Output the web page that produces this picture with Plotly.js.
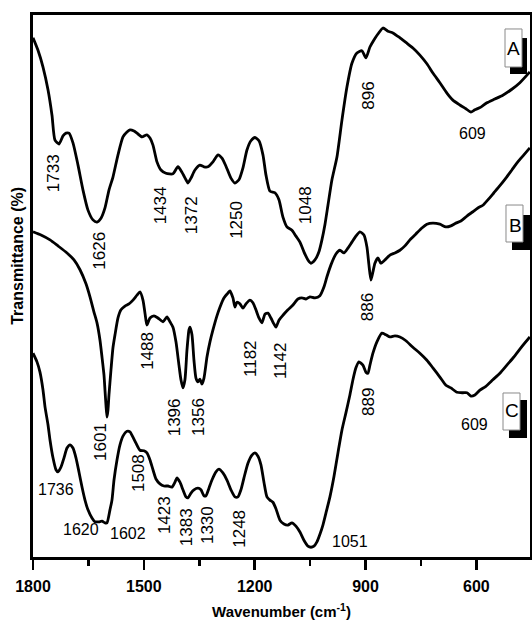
<!DOCTYPE html>
<html>
<head>
<meta charset="utf-8">
<script src="https://cdn.plot.ly/plotly-3.0.1.min.js"></script>
<style>
  html, body { margin: 0; padding: 0; background: #fff; }
  #chart { width: 532px; height: 626px; }
</style>
</head>
<body>
<div id="chart"></div>
<script>
// FTIR spectra, wavenumber (cm-1) vs. transmittance (offset, arbitrary scale)
const wnA = [1800,1786.5,1772.9,1759.4,1748.6,1740.5,1729.7,1718.8,1710.7,1702.6,1691.8,1678.2,1664.7,1651.2,1637.7,1626.8,1616.0,1605.2,1594.4,1583.6,1570.0,1556.5,1545.7,1537.6,1526.7,1518.6,1505.1,1491.6,1483.4,1475.3,1464.5,1453.7,1440.2,1421.2,1407.7,1396.9,1386.0,1380.6,1372.5,1361.7,1348.2,1337.3,1326.5,1313.0,1299.5,1288.6,1277.8,1264.3,1253.5,1242.7,1231.8,1221.0,1210.2,1199.3,1188.5,1177.7,1169.6,1158.8,1145.2,1134.4,1123.6,1112.8,1099.3,1088.4,1077.6,1066.8,1055.9,1047.8,1037.0,1026.2,1018.1,1010.0,1001.8,991.0,977.4,963.9,950.4,936.9,923.4,909.9,899.0,888.2,877.4,866.6,853.0,839.5,826.0,807.0,788.1,771.9,753.0,734.0,717.8,698.9,679.9,663.7,644.8,628.5,615.0,604.2,588.0,571.7,550.1,528.5,504.1,482.4,455.4];
const tA = [95.8,93.5,90.4,86.2,81.5,76.9,76.2,77.7,78.2,78.2,76.4,72.3,67.7,64.0,62.2,61.8,62.5,64.4,67.7,70.1,74.2,77.5,78.4,78.8,78.6,78.2,77.5,77.9,77.3,76.0,72.9,71.4,70.8,70.7,72.0,71.0,69.6,69.0,69.9,71.4,72.3,72.0,72.0,72.9,74.2,73.6,72.1,69.9,69.0,69.6,71.8,75.1,76.8,77.4,76.8,74.2,70.5,67.5,67.2,65.9,62.7,60.9,60.3,59.2,58.1,56.3,54.8,54.2,54.8,56.3,58.5,61.3,64.9,69.6,73.8,80.6,86.7,91.1,93.0,93.4,92.1,94.1,95.4,96.5,97.6,97.0,96.7,95.8,94.8,93.9,92.6,91.0,89.3,87.5,85.6,84.3,83.4,82.7,82.1,82.5,83.0,83.8,84.5,85.2,86.3,87.5,89.5];

const wnB = [1800,1778.4,1754.0,1732.4,1708.0,1689.1,1672.8,1656.6,1645.8,1635.0,1626.8,1618.7,1613.3,1607.9,1605.2,1602.5,1599.8,1597.1,1594.4,1589.0,1583.6,1578.1,1570.0,1561.9,1551.1,1540.3,1529.4,1518.6,1510.5,1502.4,1494.3,1491.6,1483.4,1472.6,1461.8,1448.3,1437.5,1429.3,1421.2,1413.1,1405.0,1399.6,1394.2,1388.8,1383.3,1377.9,1375.2,1369.8,1364.4,1359.0,1353.6,1348.2,1342.8,1337.3,1329.2,1321.1,1313.0,1302.2,1294.1,1283.3,1272.4,1267.0,1258.9,1253.5,1248.1,1240.0,1231.8,1223.7,1212.9,1204.8,1196.7,1188.5,1180.4,1172.3,1164.2,1156.1,1148.0,1142.5,1134.4,1123.6,1110.1,1096.5,1083.0,1072.2,1061.4,1050.5,1037.0,1023.5,1012.7,1004.5,993.7,980.2,969.4,958.5,947.7,936.9,926.1,915.3,904.4,896.3,890.9,885.5,880.1,874.7,866.6,858.5,847.7,834.1,820.6,807.0,793.5,780.0,763.8,747.5,734.0,717.8,698.9,682.6,669.1,655.6,642.0,625.8,609.6,596.0,582.5,568.9,552.7,536.5,520.3,504.1,487.9,471.6,455.4];
const tB = [60.0,59.4,58.5,57.4,56.1,54.8,53.0,50.4,48.0,45.2,43.2,40.0,36.9,33.6,30.8,28.0,25.8,27.1,29.9,34.5,38.6,41.0,44.1,45.6,46.3,46.7,47.4,48.3,48.9,47.4,43.7,42.8,44.1,44.5,44.1,43.4,44.3,43.4,42.4,39.7,35.4,32.7,31.2,32.7,38.2,41.9,42.4,41.0,36.3,33.0,32.3,32.8,31.9,33.0,36.9,39.7,41.9,44.5,46.1,47.8,48.7,49.1,47.8,46.1,47.0,46.7,45.9,46.7,47.4,46.9,45.6,44.1,43.2,44.8,45.0,44.1,43.0,42.4,43.7,44.6,45.6,46.5,47.6,47.8,47.6,48.0,47.8,48.2,49.8,51.7,53.9,55.9,56.6,56.1,57.0,58.1,59.2,60.0,59.4,57.2,53.9,51.1,52.6,54.2,55.2,54.2,54.8,55.7,56.1,56.6,57.4,58.5,59.6,60.7,61.4,61.6,61.4,60.9,61.1,61.6,62.0,62.9,63.7,64.4,64.9,65.9,67.2,68.5,69.9,71.4,72.9,74.2,75.5];

const wnC = [1800,1789.2,1781.1,1772.9,1767.5,1759.4,1754.0,1745.9,1737.8,1732.4,1724.2,1716.1,1708.0,1699.9,1691.8,1683.7,1675.6,1667.4,1659.3,1651.2,1640.4,1632.3,1621.4,1613.3,1605.2,1599.8,1591.7,1586.3,1580.8,1572.7,1564.6,1556.5,1545.7,1537.6,1529.4,1521.3,1510.5,1499.7,1491.6,1483.4,1475.3,1467.2,1456.4,1445.6,1434.7,1423.9,1415.8,1410.4,1402.3,1394.2,1386.0,1380.6,1372.5,1364.4,1353.6,1345.5,1337.3,1331.9,1323.8,1315.7,1304.9,1296.8,1286.0,1275.1,1264.3,1253.5,1245.4,1237.3,1229.1,1218.3,1207.5,1199.3,1191.2,1183.1,1175.0,1166.9,1158.8,1150.7,1142.5,1131.7,1120.9,1110.1,1099.3,1088.4,1077.6,1066.8,1056.0,1047.8,1039.7,1031.6,1023.5,1015.4,1007.3,996.4,985.6,974.8,964.0,953.2,942.4,934.2,926.1,918.0,907.2,899.0,893.6,888.2,880.1,869.3,855.7,844.9,834.1,820.6,807.0,790.8,771.9,753.0,734.0,717.8,698.9,682.6,669.1,652.9,636.6,625.8,615.0,604.2,590.6,574.4,555.5,536.5,517.6,498.7,479.7,455.4];
const tC = [37.6,36.0,34.1,30.8,27.7,24.4,21.6,18.3,16.1,15.7,16.6,18.3,20.1,20.7,20.1,18.3,15.7,12.9,10.5,8.7,7.2,6.5,6.5,6.6,6.3,6.3,8.7,10.5,14.2,17.9,20.7,22.3,23.2,23.1,22.1,21.0,19.7,19.6,19.2,17.9,16.1,14.4,13.5,13.1,13.1,12.9,13.8,14.6,13.8,12.4,11.1,10.9,11.8,12.4,12.7,12.4,11.3,11.3,12.7,14.2,15.7,16.2,15.5,14.2,12.4,11.1,11.1,12.4,14.6,17.3,18.8,19.2,18.6,17.0,13.8,11.1,10.5,10.1,8.9,6.8,6.1,5.9,6.3,5.7,4.6,3.1,2.0,1.8,2.0,2.8,4.2,5.9,8.1,11.1,14.8,19.2,23.4,26.6,29.9,32.7,34.9,36.0,35.4,34.1,33.9,35.4,37.6,39.7,41.3,41.0,40.6,40.8,40.6,39.9,38.7,37.6,36.3,34.9,33.2,31.7,31.2,30.4,30.3,30.3,29.7,29.9,30.8,31.5,32.7,33.9,35.4,36.9,38.6,40.6];

// Band assignments written beside each spectrum
const bandsA = ['1733','1626','1434','1372','1250','1048','896','609'];
const bandsB = ['1601','1488','1396','1356','1182','1142','886'];
const bandsC = ['1736','1620','1602','1508','1423','1383','1330','1248','1051','889','609'];
const sampleNames = ['A','B','C'];

// Where each band label sits: [wavenumber, transmittance, vertical text?]
const placeA = [[1746,70.8,true],[1619,56.5,true],[1456,64.9,true],[1372,63.1,true],[1248,62.2,true],[1064,64.9,true],[891,85.1,true],[610,78.2,false]];
const placeB = [[1619,21.2,true],[1492,38.0,true],[1418,25.8,true],[1354,25.8,true],[1213,36.7,true],[1132,36.3,true],[896,46.1,true]];
const placeC = [[1738,12.4,false],[1670,5.0,false],[1543,4.4,false],[1513,15.5,true],[1446,7.7,true],[1386,5.5,true],[1329,5.9,true],[1240,5.2,true],[942,2.8,false],[891,28.6,true],[604,24.4,false]];

const SANS = '"Liberation Sans", Arial, sans-serif';

const lineStyle = {color: '#000', width: 2.8, shape: 'spline', smoothing: 0.6};
const traces = [
  {x: wnA, y: tA, name: 'A'},
  {x: wnB, y: tB, name: 'B'},
  {x: wnC, y: tC, name: 'C'}
].map(t => Object.assign(t, {type: 'scatter', mode: 'lines', line: lineStyle, hoverinfo: 'skip'}));

const annotations = [];
function addBands(texts, places) {
  texts.forEach((txt, i) => {
    const [x, y, vertical] = places[i];
    annotations.push({
      x, y, xref: 'x', yref: 'y', text: txt, showarrow: false,
      xanchor: 'center', yanchor: 'middle',
      textangle: vertical ? -90 : 0,
      font: {family: SANS, size: vertical ? 17 : 16, color: '#000'}
    });
  });
}
addBands(bandsA, placeA);
addBands(bandsB, placeB);
addBands(bandsC, placeC);

// Framed sample tags with a dark drop shadow, in paper coordinates
const tagBoxes = [
  {box: [0.9497, 0.9839, 0.9041, 0.9742], shadow: [0.9598, 0.9940, 0.8911, 0.9575], mid: [0.9678, 0.9391]},
  {box: [0.9517, 0.9859, 0.5812, 0.6494], shadow: [0.9638, 1.0000, 0.5664, 0.6310], mid: [0.9718, 0.6125]},
  {box: [0.9457, 0.9799, 0.2343, 0.3026], shadow: [0.9577, 0.9940, 0.2196, 0.2897], mid: [0.9638, 0.2712]}
];
const shapes = [];
tagBoxes.forEach((t, i) => {
  shapes.push({type: 'rect', xref: 'paper', yref: 'paper', layer: 'above',
    x0: t.shadow[0], x1: t.shadow[1], y0: t.shadow[2], y1: t.shadow[3],
    fillcolor: '#000', line: {width: 0}});
  shapes.push({type: 'rect', xref: 'paper', yref: 'paper', layer: 'above',
    x0: t.box[0], x1: t.box[1], y0: t.box[2], y1: t.box[3],
    fillcolor: '#fff', line: {color: '#8a8a8a', width: 1}});
  annotations.push({x: t.mid[0], y: t.mid[1], xref: 'paper', yref: 'paper',
    text: sampleNames[i], showarrow: false, xanchor: 'center', yanchor: 'middle',
    font: {family: SANS, size: 19, color: '#000'}});
});

// Y-axis caption, set slightly above the plot's middle
annotations.push({
  x: -0.031, y: 0.555, xref: 'paper', yref: 'paper', showarrow: false,
  text: 'Transmittance (%)', textangle: -90, xanchor: 'center', yanchor: 'middle',
  font: {family: SANS, size: 16, color: '#000', weight: 'bold'}
});

const layout = {
  width: 532, height: 626,
  margin: {l: 33, r: 2, t: 15, b: 69, pad: 0},
  paper_bgcolor: '#fff', plot_bgcolor: '#fff',
  showlegend: false,
  xaxis: {
    range: [1800, 455], tick0: 0, dtick: 300,
    ticks: 'outside', ticklen: 10, tickwidth: 2.5, tickcolor: '#000',
    ticklabelstandoff: 3,
    minor: {dtick: 150, ticks: 'outside', ticklen: 6, tickwidth: 2.5, tickcolor: '#000', showgrid: false},
    showgrid: false, zeroline: false,
    showline: true, linecolor: '#000', linewidth: 3, mirror: true,
    tickfont: {family: SANS, size: 16, color: '#000', weight: 'bold'},
    title: {text: 'Wavenumber (cm<sup>-1</sup>)', standoff: 13,
            font: {family: SANS, size: 15, color: '#000', weight: 'bold'}}
  },
  yaxis: {
    range: [0, 100], showticklabels: false, ticks: '',
    showgrid: false, zeroline: false,
    showline: true, linecolor: '#000', linewidth: 3, mirror: true
  },
  shapes, annotations
};

Plotly.newPlot('chart', traces, layout, {staticPlot: true, displayModeBar: false});
</script>
</body>
</html>
